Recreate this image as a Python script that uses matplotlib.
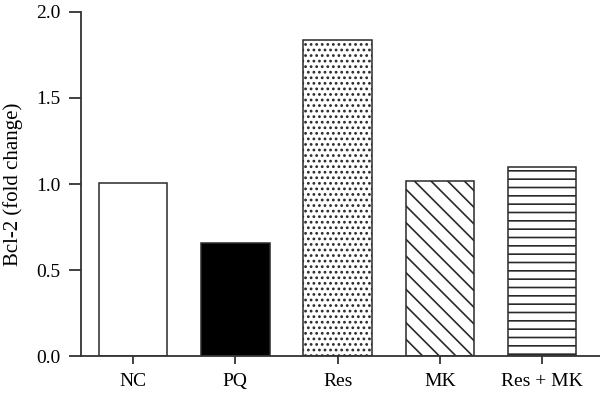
import matplotlib
matplotlib.use("Agg")
import matplotlib.pyplot as plt

categories = ["NC", "PQ", "Res", "MK", "Res + MK"]
values = [1.005, 0.655, 1.84, 1.015, 1.10]
fills = ["white", "black", "white", "white", "white"]
hatches = [None, None, "...", "\\\\", "--"]

plt.rcParams['font.family'] = ['Liberation Serif', 'DejaVu Serif']
plt.rcParams['hatch.linewidth'] = 1.2

fig = plt.figure(figsize=(6.0, 3.93), dpi=100)
ax = fig.add_axes([0.135, 0.0941, 0.865, 0.8754])

x = list(range(len(categories)))
bars = ax.bar(x, values, width=0.67, color=fills, edgecolor="#2a2a2a", linewidth=1.1)
for b, h in zip(bars, hatches):
    if h:
        b.set_hatch(h)

ax.set_xlim(-0.508, 4.565)
ax.set_ylim(0, 2.0)
ax.set_yticks([0, 0.5, 1.0, 1.5, 2.0])
ax.set_yticklabels(["0.0", "0.5", "1.0", "1.5", "2.0"])
ax.set_xticks(x)
ax.set_xticklabels(categories)
ax.set_ylabel("Bcl-2 (fold change)", fontsize=15, labelpad=9)

for s in ["top", "right"]:
    ax.spines[s].set_visible(False)
for s in ["left", "bottom"]:
    ax.spines[s].set_linewidth(1.3)
    ax.spines[s].set_color("#333333")
ax.tick_params(axis="y", length=9, width=1.3, color="#333333", labelsize=14, pad=6)
ax.tick_params(axis="x", length=6, width=1.3, color="#333333", labelsize=14, pad=6)

fig.savefig("out.png", dpi=100)
